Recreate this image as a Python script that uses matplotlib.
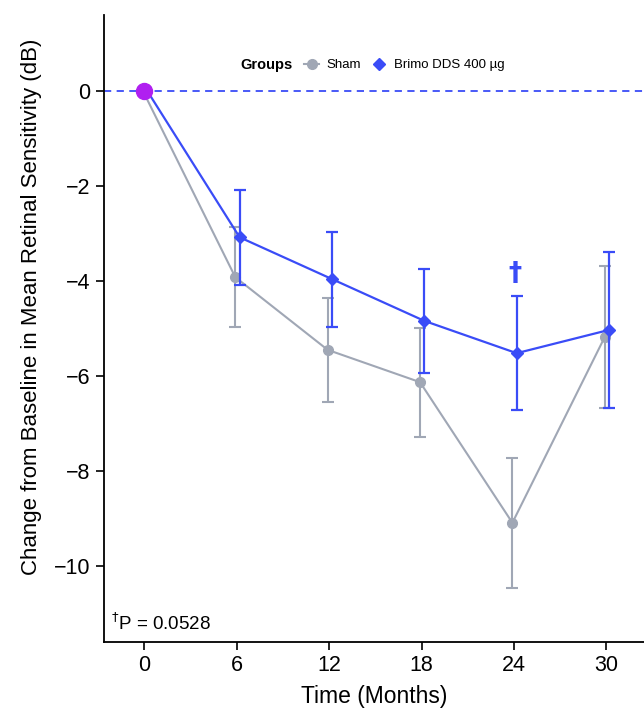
import matplotlib
matplotlib.use('Agg')
from matplotlib import pyplot as plt
from matplotlib.lines import Line2D

plt.rcParams['font.family'] = ['Liberation Sans', 'DejaVu Sans']

months = [0, 6, 12, 18, 24, 30]
sham_mean = [0, -3.92, -5.45, -6.13, -9.09, -5.18]
sham_err = [0, 1.05, 1.10, 1.15, 1.37, 1.50]
brimo_mean = [0, -3.08, -3.96, -4.84, -5.52, -5.03]
brimo_err = [0, 1.00, 1.00, 1.10, 1.20, 1.65]

grey = '#a0a7b5'
blue = '#3a4cf7'
purple = '#b01ff0'

fig = plt.figure(figsize=(6.44, 7.11), dpi=100)
ax = fig.add_axes([0.161, 0.097, 0.839, 0.882])

# small dodge so the two groups don't overlap
xs = [m - 0.1 for m in months]
xb = [m + 0.18 for m in months]

ax.axhline(0, color=blue, ls=(0, (4, 3)), lw=1.3, zorder=1)

ax.errorbar(xs[1:], sham_mean[1:], yerr=sham_err[1:], fmt='none', ecolor=grey,
            elinewidth=1.5, capsize=4, capthick=1.5, zorder=2)
ax.plot(xs, sham_mean, color=grey, lw=1.5, marker='o', ms=7, markevery=list(range(1, 6)), zorder=3)

ax.errorbar(xb[1:], brimo_mean[1:], yerr=brimo_err[1:], fmt='none', ecolor=blue,
            elinewidth=1.6, capsize=4, capthick=1.6, zorder=4)
ax.plot(xb, brimo_mean, color=blue, lw=1.6, marker='D', ms=6.5, markevery=list(range(1, 6)), zorder=5)

ax.plot(0, 0, 'o', color=purple, ms=11.5, zorder=6)

ax.text(24.05, -3.85, '\u2020', color=blue, fontsize=19, fontweight='bold', family='DejaVu Sans',
        ha='center', va='center')
ax.text(-2.2, -11.2, '$^\u2020$P = 0.0528', fontsize=13.5, ha='left', va='center')

ax.set_xlim(-2.65, 32.45)
ax.set_ylim(-11.6, 1.6)
ax.set_xticks(months)
ax.set_yticks([0, -2, -4, -6, -8, -10])
ax.set_yticklabels(['0', '\u22122', '\u22124', '\u22126', '\u22128', '\u221210'])
ax.tick_params(labelsize=15.5, length=6, width=1.2, color='black')
ax.spines['top'].set_visible(False)
ax.spines['right'].set_visible(False)
ax.spines['left'].set_linewidth(1.3)
ax.spines['bottom'].set_linewidth(1.3)
ax.set_xlabel('Time (Months)', fontsize=16.5, labelpad=6)
ax.set_ylabel('Change from Baseline in Mean Retinal Sensitivity (dB)', fontsize=16)
ax.yaxis.set_label_coords(-0.115, 0.535)

ax.text(0.253, 0.92, 'Groups', transform=ax.transAxes, fontsize=10.5, fontweight='bold', ha='left', va='center')
handles = [Line2D([], [], color=grey, lw=1.5, marker='o', ms=7),
           Line2D([], [], color=blue, lw=0, marker='D', ms=6.5)]
ax.legend(handles, ['Sham', 'Brimo DDS 400 \u00b5g'], loc='center left', bbox_to_anchor=(0.37, 0.92),
          ncol=2, frameon=False, fontsize=9.5, handlelength=1.2, handletextpad=0.5, columnspacing=0.8,
          borderaxespad=0, borderpad=0)

fig.savefig('out.png', dpi=100)
